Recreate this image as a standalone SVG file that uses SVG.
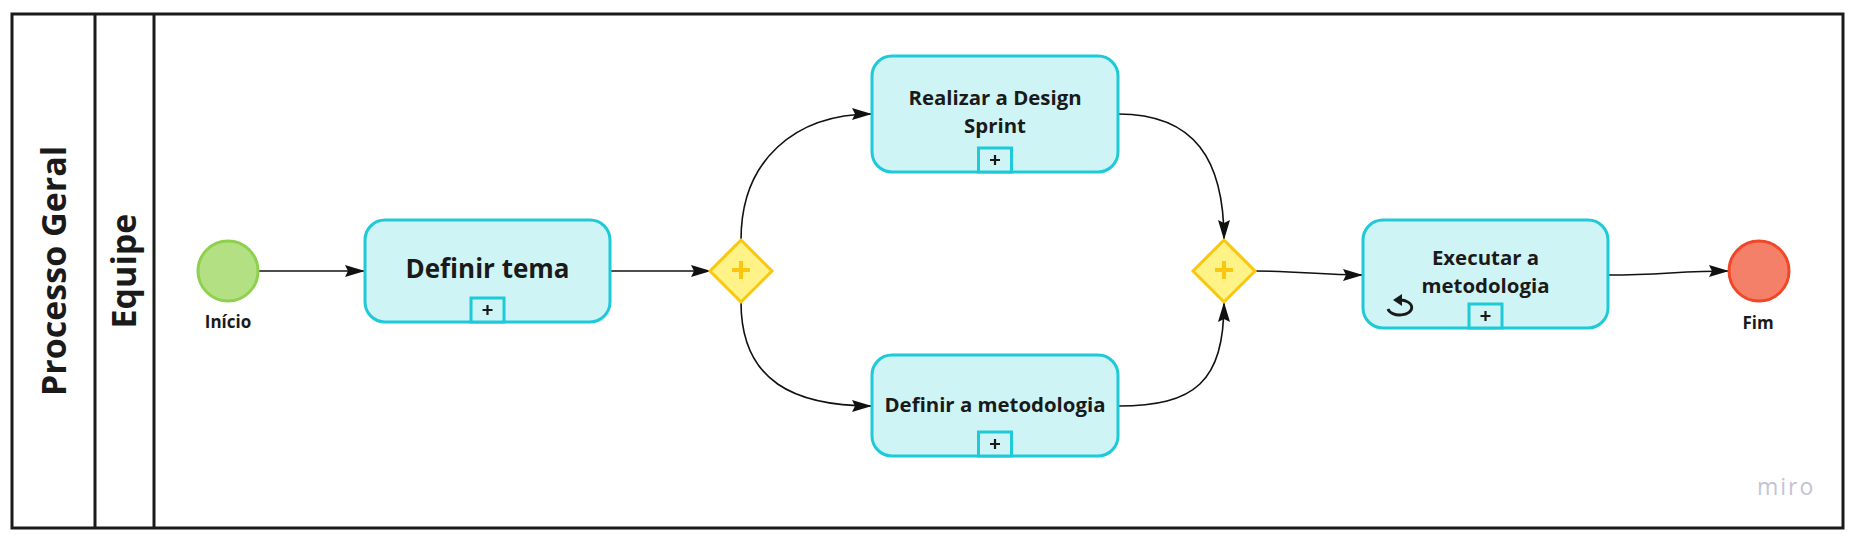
<svg xmlns="http://www.w3.org/2000/svg" width="1853" height="539" viewBox="0 0 1853 539">
  <style>
    .lbl { font-family: "Open Sans", "Noto Sans", "Liberation Sans", sans-serif; font-weight: 700; fill: #1a1a1a; }
    .lane { fill: none; stroke: #1a1a1a; stroke-width: 3; }
    .task { fill: #cff4f5; stroke: #1ecad8; stroke-width: 3; }
    .mk { fill: #cff4f5; stroke: #1ecad8; stroke-width: 3; }
    .plus { stroke: #1a1a1a; stroke-width: 2.2; fill: none; }
    .gw { fill: #fff287; stroke: #fac710; stroke-width: 3; }
    .gwp { stroke: #fac710; stroke-width: 4; fill: none; }
    .conn { fill: none; stroke: #111; stroke-width: 1.6; marker-end: url(#arr); }
  </style>
  <defs>
    <marker id="arr" viewBox="0 0 20 12" refX="20" refY="6" markerWidth="20" markerHeight="12" markerUnits="userSpaceOnUse" orient="auto">
      <path d="M0,0 L20,6 L0,12 L3,6 Z" fill="#111"/>
    </marker>
  </defs>
  <rect width="1853" height="539" fill="#ffffff"/>

  <g id="pool">
    <rect class="lane" x="12" y="14" width="1831" height="514"/>
    <line class="lane" x1="95" y1="14" x2="95" y2="528"/>
    <line class="lane" x1="154" y1="14" x2="154" y2="528"/>
    <text class="lbl" font-size="34" text-anchor="middle" transform="translate(66,271) rotate(-90)">Processo Geral</text>
    <text class="lbl" font-size="34" text-anchor="middle" transform="translate(136,271) rotate(-90)">Equipe</text>
  </g>

  <g id="connectors">
    <path class="conn" d="M259,271 L365,271"/>
    <path class="conn" d="M610,271 L711,271"/>
    <path class="conn" d="M741,240 C741,160 795,114 872,114"/>
    <path class="conn" d="M741,302 C741,382 795,406 872,406"/>
    <path class="conn" d="M1118,114 C1195,114 1224,160 1224,240"/>
    <path class="conn" d="M1118,406 C1195,406 1224,382 1224,302"/>
    <path class="conn" d="M1255,271 C1300,271 1320,275 1363,275"/>
    <path class="conn" d="M1609,275 C1660,275 1680,271 1729,271"/>
  </g>

  <g id="start">
    <circle cx="228" cy="271" r="30" fill="#b3e083" stroke="#8fd14f" stroke-width="3"/>
    <text class="lbl" x="228" y="328" font-size="17" text-anchor="middle">Início</text>
  </g>

  <g id="task-definir-tema">
    <rect class="task" x="365" y="220" width="245" height="102" rx="20"/>
    <text class="lbl" x="487.5" y="278" font-size="26" text-anchor="middle">Definir tema</text>
    <rect class="mk" x="471" y="298" width="33" height="24"/>
    <path class="plus" d="M482.5,310 L492.5,310 M487.5,305 L487.5,315"/>
  </g>

  <g id="gateway-split">
    <polygon class="gw" points="741,240 772,271 741,302 710,271"/>
    <path class="gwp" d="M732,270 L750,270 M741,261 L741,279"/>
  </g>

  <g id="task-design-sprint">
    <rect class="task" x="872" y="56" width="246" height="116" rx="20"/>
    <text class="lbl" x="995" y="105" font-size="20.4" text-anchor="middle">Realizar a Design</text>
    <text class="lbl" x="995" y="133" font-size="20.4" text-anchor="middle">Sprint</text>
    <rect class="mk" x="978.5" y="148" width="33" height="24"/>
    <path class="plus" d="M990,160 L1000,160 M995,155 L995,165"/>
  </g>

  <g id="task-definir-metodologia">
    <rect class="task" x="872" y="355" width="246" height="101" rx="20"/>
    <text class="lbl" x="995" y="412" font-size="20.4" text-anchor="middle">Definir a metodologia</text>
    <rect class="mk" x="978.5" y="432" width="33" height="24"/>
    <path class="plus" d="M990,444 L1000,444 M995,439 L995,449"/>
  </g>

  <g id="gateway-join">
    <polygon class="gw" points="1224,240 1255,271 1224,302 1193,271"/>
    <path class="gwp" d="M1215,270 L1233,270 M1224,261 L1224,279"/>
  </g>

  <g id="task-executar">
    <rect class="task" x="1363" y="220" width="245" height="108" rx="20"/>
    <text class="lbl" x="1485.5" y="265" font-size="20.4" text-anchor="middle">Executar a</text>
    <text class="lbl" x="1485.5" y="293" font-size="20.4" text-anchor="middle">metodologia</text>
    <rect class="mk" x="1469" y="304" width="33" height="24"/>
    <path class="plus" d="M1480.5,316 L1490.5,316 M1485.5,311 L1485.5,321"/>
    <path d="M1388,309 A12,7.5 0 1 0 1400,300" fill="none" stroke="#1a1a1a" stroke-width="2.8"/>
    <path d="M1393,300 L1402,294 L1402,306 Z" fill="#1a1a1a"/>
  </g>

  <g id="end">
    <circle cx="1759" cy="271" r="30" fill="#f58069" stroke="#f24726" stroke-width="3"/>
    <text class="lbl" x="1758" y="329" font-size="17" text-anchor="middle">Fim</text>
  </g>

  <text x="1757" y="495" font-family="'Open Sans', 'Liberation Sans', sans-serif" font-size="23" letter-spacing="2" fill="#c2c4d6">miro</text>
</svg>
